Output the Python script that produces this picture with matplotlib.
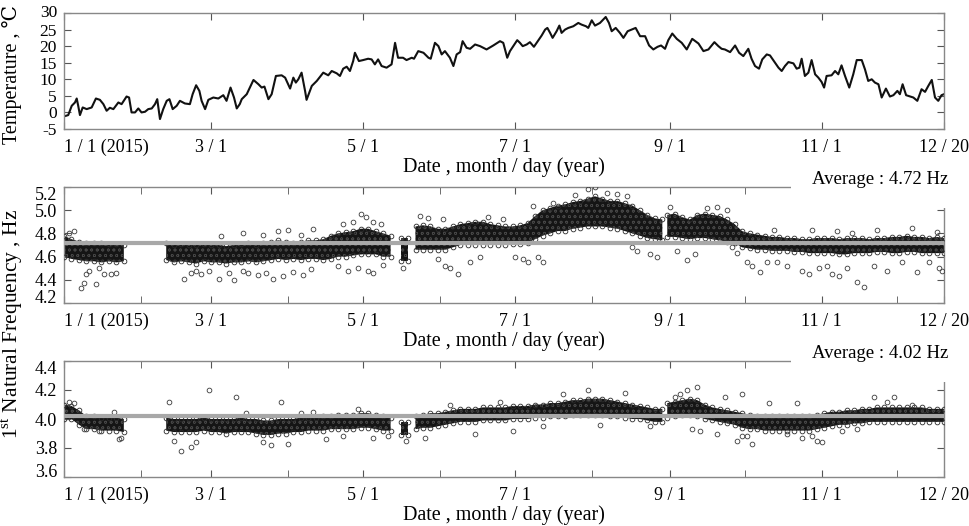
import numpy as np
import matplotlib.pyplot as plt
from matplotlib.patches import Rectangle

plt.rcParams['font.family'] = ['Liberation Serif', 'DejaVu Serif']
plt.rcParams['mathtext.fontset'] = 'custom'
plt.rcParams['mathtext.rm'] = 'Liberation Serif'
plt.rcParams['axes.unicode_minus'] = False
plt.rcParams['font.size'] = 12.5
plt.rcParams['hatch.linewidth'] = 0.5

# x axis: day of year, 0 = 1/1 (2015)
x_tick_days = [0, 59, 120, 181, 243, 304, 353]
x_tick_labels = ['1 / 1 (2015)', '3 / 1', '5 / 1', '7 / 1', '9 / 1', '11 / 1', '12 / 20']
month_days = [31, 90, 151, 212, 273, 334]

# daily temperature (deg C)
temp_day = [0, 1.7, 3.1, 4.4, 5.1, 5.7, 6.4, 7.5, 9.1, 11.1, 12.8, 14.4, 15.8, 17.1, 18.4, 19.8,
            21.8, 23.1, 25.1, 26.1, 27.1, 28.5, 29.8, 31.1, 32.5, 33.8, 35.2, 36.5, 37.4, 38.5,
            39.8, 41.2, 42.3, 43.6, 45.2, 46.5, 48.5, 50.5, 51.6, 53.0, 54.3, 55.2, 56.6, 57.9,
            59.9, 61.9, 63.9, 65.2, 66.8, 68.2, 69.3, 70.5, 71.3, 73.3, 76.0, 78.0, 79.3, 80.4,
            82.0, 83.3, 85.0, 87.3, 88.7, 90.7, 92.0, 93.0, 94.0, 95.3, 96.7, 97.3, 99.4, 101.4,
            104.0, 106.0, 107.4, 109.4, 110.7, 112.0, 113.4, 114.7, 116.0, 116.7, 118.3, 120.0,
            122.0, 123.4, 124.7, 126.0, 127.4, 129.4, 131.4, 132.8, 134.0, 136.0, 137.4, 139.5,
            140.4, 142.1, 144.2, 146.2, 147.1, 148.8, 150.2, 151.5, 152.8, 154.8, 156.2, 157.5,
            158.9, 159.9, 161.5, 162.9, 164.9, 166.9, 169.5, 172.2, 174.9, 176.2, 177.8, 178.9,
            180.2, 181.8, 182.9, 184.0, 185.6, 186.9, 188.5, 190.3, 191.6, 193.0, 193.9, 195.0,
            196.0, 197.6, 198.7, 199.6, 201.0, 202.3, 204.3, 206.3, 207.6, 209.4, 210.3, 211.7,
            213.0, 215.0, 217.3, 218.6, 219.7, 221.3, 223.0, 224.4, 226.1, 227.7, 229.3, 231.1,
            233.1, 234.7, 236.4, 238.1, 239.5, 241.1, 242.4, 244.0, 245.8, 247.8, 249.8, 252.0,
            254.5, 256.5, 258.5, 260.9, 262.5, 263.8, 265.1, 267.2, 269.2, 270.8, 272.5, 274.5,
            275.8, 277.2, 278.8, 280.1, 281.9, 283.2, 285.2, 286.6, 287.9, 289.2, 290.6, 292.6,
            293.9, 295.0, 295.9, 297.2, 298.6, 299.9, 301.3, 302.6, 303.9, 304.9, 305.9, 307.9,
            309.3, 310.6, 311.9, 313.3, 315.0, 316.6, 318.0, 320.0, 321.3, 322.6, 324.0, 325.3,
            326.7, 328.0, 329.7, 331.3, 332.7, 334.3, 335.3, 336.4, 337.8, 339.4, 340.7, 342.3,
            344.0, 345.4, 346.7, 348.1, 349.4, 350.7, 352.0, 353.0]
temp_val = [-1.2, -0.8, 2.0, 3.0, 4.2, 2.0, -0.8, 1.5, 1.0, 1.5, 4.2, 3.8, 2.5, 0.5, 1.4, 1.0,
            3.0, 2.5, 4.8, 4.5, 0.0, 0.0, 1.2, 0.0, 0.2, 1.0, 1.2, 2.5, 4.0, -2.0,
            1.0, 3.5, 4.0, 1.0, 2.0, 3.5, 2.7, 2.5, 5.5, 8.2, 6.5, 3.5, 1.0, 3.8,
            4.5, 4.2, 5.2, 3.5, 7.5, 4.5, 1.2, 2.5, 4.0, 5.5, 9.8, 8.5, 7.5, 7.8,
            4.0, 5.5, 11.0, 11.2, 10.5, 7.2, 10.5, 9.0, 10.0, 12.0, 6.5, 3.8, 8.0, 9.5,
            12.0, 11.2, 12.5, 11.8, 11.0, 13.2, 13.8, 12.5, 15.5, 18.0, 15.5, 15.8,
            16.2, 16.0, 14.5, 16.0, 14.0, 13.5, 14.5, 21.0, 16.5, 16.5, 15.8, 16.5,
            16.2, 18.5, 18.0, 16.5, 16.2, 21.0, 20.0, 17.5, 18.5, 16.5, 14.0, 17.5,
            18.2, 21.5, 19.5, 19.2, 20.5, 20.0, 19.0, 20.2, 21.5, 21.0, 16.5, 18.5,
            20.0, 21.8, 21.0, 20.0, 20.5, 21.2, 19.8, 21.8, 23.2, 25.0, 25.5, 24.0,
            22.5, 24.5, 26.2, 24.0, 25.0, 25.5, 26.0, 27.0, 26.5, 26.0, 25.5, 27.8,
            26.2, 27.0, 28.8, 27.0, 24.5, 25.5, 24.0, 22.5, 24.5, 25.0, 25.5, 23.0,
            23.0, 20.2, 19.0, 19.8, 20.2, 19.2, 21.8, 23.8, 22.2, 21.0, 19.0, 22.2,
            20.8, 18.5, 19.0, 21.2, 20.0, 19.2, 19.0, 18.2, 20.2, 18.0, 17.0, 19.2,
            16.2, 14.0, 13.2, 16.0, 17.5, 17.2, 15.0, 13.5, 12.5, 14.0, 15.2, 14.8,
            13.2, 13.5, 16.2, 11.0, 12.0, 15.8, 11.5, 10.5, 9.2, 7.5, 11.0, 11.2,
            12.5, 11.5, 14.2, 11.0, 7.5, 11.5, 15.8, 15.8, 13.0, 9.5, 10.0, 9.0,
            8.5, 4.5, 7.2, 4.8, 5.2, 6.5, 5.5, 8.5, 5.2, 4.8, 4.5, 3.5,
            7.0, 6.2, 8.0, 9.8, 4.5, 3.5, 5.2, 5.5]

nan = np.nan

# natural frequency, dense band of measurements (lower / upper edge), gaps = nan
band_day = [0, 3, 6, 9, 12, 15, 18, 21, 24, 32,
            41, 44, 47, 50, 53, 56, 59, 62, 65, 68, 71, 74, 77, 80, 83, 86, 89, 92, 95, 98,
            101, 104, 107, 110, 113, 116, 119, 122, 125, 128, 131, 133, 135, 138, 139.7,
            141, 144, 147, 150, 153, 156, 159, 162, 165, 168, 171, 174, 177, 180, 183, 186,
            189, 192, 195, 198, 201, 204, 207, 210, 213, 216, 219, 222, 225, 228, 231, 234,
            237, 240, 241,
            242, 245, 248, 251, 254, 257, 260, 263, 266, 269, 272, 275, 278, 281, 284, 287,
            290, 293, 296, 299, 302, 305, 308, 311, 314, 317, 320, 323, 326, 329, 332, 335,
            338, 341, 344, 347, 350, 353]

f1_lo = [4.60, 4.58, 4.57, 4.56, 4.56, 4.55, 4.56, 4.55, 4.56, nan,
         4.57, 4.55, 4.56, 4.55, 4.54, 4.56, 4.55, 4.55, 4.54, 4.55, 4.55, 4.56, 4.55, 4.56,
         4.57, 4.58, 4.57, 4.58, 4.57, 4.58, 4.58, 4.57, 4.58, 4.60, 4.60, 4.61, 4.62, 4.62,
         4.62, 4.60, 4.60, nan, 4.56, 4.56, nan,
         4.66, 4.66, 4.66, 4.66, 4.66, 4.68, 4.70, 4.70, 4.70, 4.70, 4.70, 4.70, 4.70, 4.71,
         4.71, 4.72, 4.75, 4.78, 4.80, 4.82, 4.82, 4.84, 4.85, 4.86, 4.86, 4.86, 4.85, 4.84,
         4.82, 4.80, 4.78, 4.76, 4.75, 4.74, nan,
         4.77, 4.77, 4.76, 4.75, 4.76, 4.76, 4.75, 4.74, 4.73, 4.72, 4.68, 4.67, 4.66, 4.66,
         4.65, 4.65, 4.65, 4.64, 4.64, 4.63, 4.63, 4.63, 4.63, 4.62, 4.62, 4.63, 4.63, 4.63,
         4.64, 4.64, 4.63, 4.63, 4.64, 4.64, 4.63, 4.63, 4.63, 4.63]
f1_hi = [4.78, 4.75, 4.73, 4.72, 4.72, 4.72, 4.71, 4.71, 4.70, nan,
         4.72, 4.70, 4.71, 4.70, 4.70, 4.71, 4.70, 4.70, 4.69, 4.70, 4.71, 4.72, 4.70, 4.72,
         4.73, 4.74, 4.73, 4.72, 4.73, 4.74, 4.74, 4.75, 4.78, 4.80, 4.81, 4.82, 4.84, 4.84,
         4.82, 4.80, 4.78, nan, 4.76, 4.76, nan,
         4.86, 4.87, 4.86, 4.84, 4.84, 4.86, 4.88, 4.89, 4.90, 4.90, 4.88, 4.87, 4.86, 4.86,
         4.87, 4.89, 4.95, 5.00, 5.02, 5.04, 5.05, 5.07, 5.08, 5.10, 5.12, 5.10, 5.08, 5.08,
         5.06, 5.04, 5.00, 4.96, 4.93, 4.92, nan,
         4.96, 4.97, 4.94, 4.92, 4.96, 4.97, 4.96, 4.95, 4.92, 4.88, 4.82, 4.80, 4.79, 4.78,
         4.77, 4.77, 4.76, 4.76, 4.75, 4.75, 4.76, 4.76, 4.76, 4.75, 4.76, 4.76, 4.76, 4.75,
         4.76, 4.76, 4.77, 4.77, 4.78, 4.77, 4.77, 4.76, 4.77, 4.76]

f2_lo = [4.00, 4.00, 3.96, 3.93, 3.93, 3.92, 3.92, 3.92, 3.91, nan,
         3.92, 3.91, 3.91, 3.91, 3.91, 3.92, 3.91, 3.91, 3.90, 3.91, 3.91, 3.91, 3.90, 3.89,
         3.89, 3.90, 3.90, 3.91, 3.91, 3.92, 3.92, 3.92, 3.93, 3.93, 3.93, 3.93, 3.94, 3.94,
         3.93, 3.92, 3.92, nan, 3.89, 3.89, nan,
         3.93, 3.94, 3.94, 3.95, 3.96, 3.97, 3.98, 3.98, 3.98, 3.99, 3.99, 3.99, 3.99, 4.00,
         4.00, 4.00, 4.01, 4.01, 4.02, 4.02, 4.02, 4.03, 4.03, 4.03, 4.03, 4.03, 4.02, 4.02,
         4.01, 4.00, 4.00, 3.99, 3.98, 3.98, nan,
         4.01, 4.02, 4.03, 4.03, 4.02, 4.00, 3.99, 3.98, 3.97, 3.96, 3.94, 3.93, 3.93, 3.92,
         3.92, 3.92, 3.92, 3.92, 3.92, 3.92, 3.93, 3.94, 3.95, 3.96, 3.96, 3.97, 3.97, 3.98,
         3.98, 3.98, 3.98, 3.98, 3.98, 3.98, 3.98, 3.98, 3.98, 3.98]
f2_hi = [4.10, 4.09, 4.06, 4.02, 4.02, 4.01, 4.01, 4.01, 4.00, nan,
         4.01, 4.00, 4.00, 4.00, 4.00, 4.01, 4.00, 4.00, 4.00, 4.00, 4.01, 4.00, 4.00, 3.99,
         3.99, 4.00, 4.00, 4.00, 4.01, 4.01, 4.01, 4.02, 4.02, 4.03, 4.03, 4.03, 4.04, 4.04,
         4.03, 4.02, 4.01, nan, 3.98, 3.98, nan,
         4.02, 4.03, 4.04, 4.04, 4.05, 4.06, 4.07, 4.07, 4.07, 4.08, 4.08, 4.08, 4.08, 4.09,
         4.09, 4.09, 4.10, 4.10, 4.11, 4.11, 4.12, 4.13, 4.13, 4.14, 4.14, 4.14, 4.13, 4.12,
         4.11, 4.10, 4.09, 4.08, 4.07, 4.07, nan,
         4.11, 4.12, 4.13, 4.14, 4.13, 4.10, 4.08, 4.07, 4.06, 4.05, 4.04, 4.03, 4.02, 4.02,
         4.02, 4.02, 4.02, 4.02, 4.02, 4.02, 4.03, 4.04, 4.05, 4.05, 4.06, 4.06, 4.07, 4.07,
         4.08, 4.08, 4.08, 4.08, 4.08, 4.08, 4.08, 4.07, 4.07, 4.07]

# scattered single measurements away from the band
f1_out_day = [2, 4, 7, 8, 9, 10, 13, 14, 16, 19, 21,
              48, 51, 53, 55, 58, 62, 66, 68, 72, 74, 78, 81, 84, 88, 92, 96, 99,
              63, 72, 80, 86, 90, 95, 100,
              110, 114, 118, 122, 124, 128, 119, 121, 116, 124, 112, 127,
              136, 143, 146, 150, 153, 155, 158, 163, 167, 152, 170, 176, 181, 184, 186,
              190, 192, 188, 196, 205, 210, 213, 218, 222, 226, 228, 230, 235, 238,
              243, 246, 250, 253, 258, 262, 266, 268, 270,
              274, 276, 279, 282, 286, 290, 296, 299, 303, 306, 308, 311, 314, 318, 321, 325,
              330, 336, 342, 347, 351, 352,
              285, 300, 310, 316, 326, 340, 350]
f1_out_val = [4.80, 4.82, 4.33, 4.37, 4.45, 4.48, 4.36, 4.50, 4.45, 4.45, 4.46,
              4.41, 4.46, 4.48, 4.45, 4.48, 4.41, 4.46, 4.40, 4.48, 4.46, 4.44, 4.46, 4.41,
              4.43, 4.47, 4.44, 4.49,
              4.78, 4.80, 4.79, 4.82, 4.83, 4.79, 4.84,
              4.52, 4.48, 4.50, 4.48, 4.46, 4.53, 4.97, 4.94, 4.90, 4.90, 4.88, 4.88,
              4.50, 4.95, 4.93, 4.58, 4.52, 4.50, 4.45, 4.55, 4.60, 4.92, 4.94, 4.92, 4.60,
              4.58, 4.55,
              4.60, 4.55, 5.04, 5.06, 5.13, 5.18, 5.20, 5.15, 5.14, 5.12, 4.68, 4.65, 4.62,
              4.60,
              5.03, 4.65, 4.57, 4.62, 5.02, 5.03, 5.00, 4.68, 4.63,
              4.55, 4.52, 4.47, 4.55, 4.55, 4.52, 4.48, 4.45, 4.50, 4.52, 4.45, 4.43, 4.50,
              4.38, 4.34, 4.52, 4.48, 4.55, 4.47, 4.55, 4.50, 4.48,
              4.83, 4.83, 4.82, 4.80, 4.83, 4.85, 4.81]

f2_out_day = [2, 4, 8, 14, 20, 22, 23,
              42, 44, 47, 51, 53, 58, 69, 73, 80, 83, 87, 90, 95, 100, 105, 112, 118, 124,
              130, 137, 145, 155, 165, 175, 180, 192, 200, 210, 215, 225, 235,
              245, 247, 250, 252, 254, 255, 262, 265, 270, 272, 272, 274, 276, 283, 290, 294,
              296, 300, 302, 304, 312, 318, 325, 330, 333, 340, 345]
f2_out_val = [4.12, 4.11, 3.93, 3.92, 4.05, 3.86, 3.87,
              4.12, 3.85, 3.78, 3.81, 3.84, 4.20, 4.15, 4.04, 3.84, 3.82, 4.12, 3.83, 4.04,
              4.05, 3.86, 3.88, 4.07, 3.87,
              3.88, 3.85, 3.87, 4.10, 3.90, 4.12, 3.92, 3.95, 4.17, 4.20, 3.96, 4.18, 3.95,
              4.15, 4.17, 4.20, 3.93, 4.22, 3.92, 3.90, 4.15, 3.85, 4.17, 3.88, 3.88, 3.83,
              4.11, 3.90, 4.11, 3.87, 3.88, 3.85, 3.84, 3.92, 3.93, 4.15, 4.12, 4.15, 4.10,
              4.06]

f1_avg = 4.72
f2_avg = 4.02

spine_c = '#888888'

fig = plt.figure(figsize=(9.7, 5.26), dpi=100)
ax1 = fig.add_axes([64 / 970, 1 - 129 / 526, 880 / 970, 116 / 526])
ax2 = fig.add_axes([64 / 970, 1 - 303 / 526, 880 / 970, 116 / 526])
ax3 = fig.add_axes([64 / 970, 1 - 477 / 526, 880 / 970, 116 / 526])


def style(ax, monthly):
    ax.set_xlim(0, 353)
    for s in ax.spines.values():
        s.set_color(spine_c)
        s.set_linewidth(1.0)
    ax.set_xticks(x_tick_days)
    ax.set_xticklabels(x_tick_labels)
    if monthly:
        ax.set_xticks(month_days, minor=True)
    ax.tick_params(which='both', direction='in', top=True, right=True, length=5,
                   color='#555555', labelsize=13)
    ax.tick_params(axis='x', pad=7)
    ax.tick_params(axis='y', pad=5)
    ax.get_xticklabels()[0].set_ha('left')
    ax.set_xlabel('Date , month / day (year)', fontsize=14.5, labelpad=1)


# temperature
ax1.plot(temp_day, temp_val, color='#111111', lw=1.5)
ax1.set_ylim(-5, 30)
ax1.set_yticks([-5, 0, 5, 10, 15, 20, 25, 30])
ax1.set_yticklabels(['-5', '0', '5', '10', '15', '20', '25', '30'])
style(ax1, False)
ax1.tick_params(axis='y', labelsize=12.5)
ax1.get_yticklabels()[-1].set_va('center')


def freq_panel(ax, lo, hi, out_day, out_val, avg):
    ax.fill_between(band_day, lo, hi, facecolor='#151515', edgecolor='#454545',
                    hatch='ooo', lw=0, zorder=2)
    ax.plot(band_day, lo, 'o', mfc='none', mec='#2a2a2a', ms=3.4, mew=0.6, zorder=3)
    ax.plot(band_day, hi, 'o', mfc='none', mec='#2a2a2a', ms=3.4, mew=0.6, zorder=3)
    ax.plot(out_day, out_val, 'o', mfc='none', mec='#3a3a3a', ms=3.4, mew=0.6, zorder=3)
    ax.axhline(avg, color='#a8a8a8', lw=3, zorder=4)


freq_panel(ax2, f1_lo, f1_hi, f1_out_day, f1_out_val, f1_avg)
ax2.set_ylim(4.2, 5.2)
ax2.set_yticks([4.2, 4.4, 4.6, 4.8, 5.0, 5.2])
ax2.set_yticklabels(['4.2', '4.4', '4.6', '4.8', '5.0', '5.2'])
style(ax2, True)
ax2.get_yticklabels()[-1].set_va('top')
ax2.get_yticklabels()[0].set_va('baseline')

freq_panel(ax3, f2_lo, f2_hi, f2_out_day, f2_out_val, f2_avg)
ax3.set_ylim(3.6, 4.4)
ax3.set_yticks([3.6, 3.8, 4.0, 4.2, 4.4])
ax3.set_yticklabels(['3.6', '3.8', '4.0', '4.2', '4.4'])
style(ax3, True)
ax3.get_yticklabels()[-1].set_va('top')
ax3.get_yticklabels()[0].set_va('baseline')

# white boxes with the average values over the top right corners
for top, txt in [(168, 'Average : 4.72 Hz'), (342, 'Average : 4.02 Hz')]:
    fig.add_artist(Rectangle((791 / 970, 1 - (top + 40) / 526), 179 / 970, 40 / 526,
                             transform=fig.transFigure, facecolor='white',
                             edgecolor='none', zorder=5))
    fig.text(880 / 970, 1 - (top + 12) / 526, txt, ha='center', va='center',
             fontsize=13.5, zorder=6)

fig.text(12 / 970, 1 - 74 / 526, 'Temperature , \u2103', rotation=90,
         ha='center', va='center', fontsize=14.5)
fig.text(12 / 970, 1 - 324 / 526, '1$^{\\mathrm{st}}$ Natural Frequency , Hz',
         rotation=90, ha='center', va='center', fontsize=15.5)

fig.savefig('out.png', dpi=100)
